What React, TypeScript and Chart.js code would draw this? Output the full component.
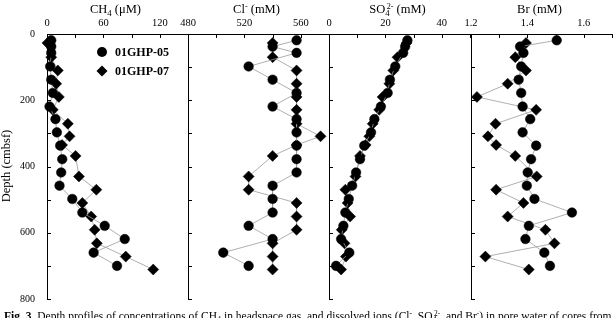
import React, { useEffect, useRef } from 'react';
import { Chart, registerables } from 'chart.js';
Chart.register(...registerables);

const SERIF = "'Liberation Serif', 'DejaVu Serif', serif";

// ---- data (depth in cmbsf) ----
const depth05 = [19, 38, 57, 98, 138, 178, 219, 257, 297, 337, 378, 418, 458, 498, 539, 579, 619, 660, 700];
const depth07 = [27, 70, 110, 150, 190, 229, 271, 309, 335, 368, 430, 470, 510, 551, 591, 632, 672, 711];

const ch4_05 = [4.5, 4.5, 4.5, 3.4, 4.5, 6.2, 2.7, 9, 10.5, 14, 16.2, 15.1, 13.3, 26.9, 37.6, 61.4, 82.7, 49.6, 74.5];
const ch4_07 = [0.5, 4.5, 11.5, 9.8, 12.6, 6.2, 22.2, 24, 16, 30.4, 34, 52.5, 37.6, 47, 50.7, 53, 83.8, 113];

const cl_05 = [557, 540, 557, 523, 540, 557, 540, 557, 557, 557, 557, 557, 540, 540, 540, 523, 540, 505, 523];
const cl_07 = [540, 540, 557, 557, 557, 557, 557, 574, 557, 540, 523, 523, 557, 557, 557, 540, 540, 540];

const so4_05 = [27.8, 27, 26.3, 23.5, 21.6, 20.8, 18.4, 16.1, 14.9, 12.5, 11, 9.6, 8.2, 7, 5.8, 5.1, 4.3, 7.2, 2.5];
const so4_07 = [27.5, 24.3, 22.8, 21.4, 19, 17.8, 15.5, 14.3, 13, 11, 9.4, 5.8, 6.6, 7.5, 4.5, 5.5, 6, 4.3];

const br_05 = [1.504, 1.374, 1.386, 1.378, 1.369, 1.378, 1.383, 1.41, 1.383, 1.431, 1.413, 1.401, 1.398, 1.425, 1.558, 1.405, 1.393, 1.46, 1.48];
const br_07 = [1.395, 1.357, 1.395, 1.33, 1.221, 1.431, 1.287, 1.26, 1.289, 1.357, 1.433, 1.289, 1.386, 1.33, 1.464, 1.496, 1.251, 1.405];

const seriesNames = ['01GHP-05', '01GHP-07'];
const depthTicks = { min: 0, max: 800, step: 100, labelStep: 200 };

// ---- layout ----
const PANEL_W = 141;
const AXIS_W = 45;
const TOP = 34;
const BOTTOM = 299;
const H = 318;
const PAD_R = 8;

type PanelCfg = {
  left: number; min: number; max: number; step: number; decimals: number;
  v05: number[]; v07: number[]; showY: boolean; legend: boolean;
};

const panels: PanelCfg[] = [
  { left: 47, min: 0, max: 150, step: 30, decimals: 0, v05: ch4_05, v07: ch4_07, showY: true, legend: true },
  { left: 188, min: 480, max: 580, step: 20, decimals: 0, v05: cl_05, v07: cl_07, showY: false, legend: false },
  { left: 329, min: 0, max: 50, step: 10, decimals: 0, v05: so4_05, v07: so4_07, showY: false, legend: false },
  { left: 471, min: 1.2, max: 1.7, step: 0.1, decimals: 1, v05: br_05, v07: br_07, showY: false, legend: false },
];

const inwardTicks = {
  id: 'inwardTicks',
  afterDraw(chart: any) {
    const { ctx, chartArea, scales } = chart;
    ctx.save();
    ctx.strokeStyle = '#000';
    ctx.lineWidth = 1;
    ctx.beginPath();
    scales.x.ticks.forEach((t: any) => {
      const px = Math.round(scales.x.getPixelForValue(t.value)) + 0.5;
      ctx.moveTo(px, chartArea.top);
      ctx.lineTo(px, chartArea.top + 4);
    });
    scales.y.ticks.forEach((t: any) => {
      const py = Math.round(scales.y.getPixelForValue(t.value)) + 0.5;
      ctx.moveTo(chartArea.left, py);
      ctx.lineTo(chartArea.left + 4, py);
    });
    ctx.stroke();
    ctx.restore();
  },
};

const legendPlugin = {
  id: 'customLegend',
  afterDraw(chart: any) {
    const ctx = chart.ctx;
    const ds = chart.data.datasets;
    const mx = 100;
    const rows = [52, 71];
    ctx.save();
    ctx.fillStyle = '#000';
    ctx.font = `bold 12px ${SERIF}`;
    ctx.textBaseline = 'middle';
    ds.forEach((d: any, i: number) => {
      ctx.beginPath();
      if (d.pointStyle === 'circle') {
        ctx.arc(mx, rows[i], 5, 0, Math.PI * 2);
      } else {
        const r = 5.5;
        ctx.moveTo(mx, rows[i] - r);
        ctx.lineTo(mx + r, rows[i]);
        ctx.lineTo(mx, rows[i] + r);
        ctx.lineTo(mx - r, rows[i]);
        ctx.closePath();
      }
      ctx.fill();
      ctx.fillText(d.label, mx + 13, rows[i] + 0.5);
    });
    ctx.restore();
  },
};

function Panel({ cfg }: { cfg: PanelCfg }) {
  const ref = useRef<HTMLCanvasElement | null>(null);
  useEffect(() => {
    if (!ref.current) return;
    const mk = (vals: number[], depths: number[]) => depths.map((d, i) => ({ x: vals[i], y: d }));
    const chart = new Chart(ref.current, {
      type: 'scatter',
      data: {
        datasets: [
          {
            label: seriesNames[0],
            data: mk(cfg.v05, depth05),
            showLine: true,
            borderColor: '#9a9a9a',
            borderWidth: 0.8,
            pointStyle: 'circle',
            pointRadius: 4.8,
            pointBackgroundColor: '#000',
            pointBorderColor: '#000',
            pointBorderWidth: 0.5,
            clip: false,
          } as any,
          {
            label: seriesNames[1],
            data: mk(cfg.v07, depth07),
            showLine: true,
            borderColor: '#9a9a9a',
            borderWidth: 0.8,
            pointStyle: 'rectRot',
            pointRadius: 5.5,
            pointBackgroundColor: '#000',
            pointBorderColor: '#000',
            pointBorderWidth: 0.5,
            clip: false,
          } as any,
        ],
      },
      options: {
        animation: false,
        responsive: false,
        devicePixelRatio: 1,
        events: [],
        layout: { padding: { left: 0, right: PAD_R, top: 0, bottom: H - BOTTOM } },
        plugins: { legend: { display: false }, tooltip: { enabled: false } },
        scales: {
          x: {
            type: 'linear',
            position: 'top',
            min: cfg.min,
            max: cfg.max,
            ticks: {
              stepSize: cfg.step,
              autoSkip: false,
              maxRotation: 0,
              minRotation: 0,
              padding: 4,
              color: '#000',
              font: { family: SERIF, size: 10.5 },
              callback: (v: any) => {
                const k = Math.round((Number(v) - cfg.min) / cfg.step);
                return k % 2 === 0 ? Number(v).toFixed(cfg.decimals) : '';
              },
            },
            grid: { display: true, drawOnChartArea: false, drawTicks: false },
            border: { display: true, color: '#000', width: 1 },
            afterFit: (s: any) => { s.height = TOP; },
          },
          y: {
            type: 'linear',
            reverse: true,
            min: depthTicks.min,
            max: depthTicks.max,
            ticks: {
              stepSize: depthTicks.step,
              display: cfg.showY,
              autoSkip: false,
              padding: 12,
              color: '#000',
              font: { family: SERIF, size: 10 },
              callback: (v: any) => (Number(v) % depthTicks.labelStep === 0 ? String(v) : ''),
            },
            grid: { display: true, drawOnChartArea: false, drawTicks: false },
            border: { display: true, color: '#000', width: 1 },
            afterFit: (s: any) => { s.width = AXIS_W; },
          },
        },
      } as any,
      plugins: cfg.legend ? [inwardTicks, legendPlugin] : [inwardTicks],
    });
    return () => chart.destroy();
  }, [cfg]);
  const w = AXIS_W + PANEL_W + PAD_R;
  return (
    <canvas
      ref={ref}
      width={w}
      height={H}
      style={{ position: 'absolute', left: cfg.left - AXIS_W, top: 0, width: w, height: H }}
    />
  );
}

const subSt: React.CSSProperties = { fontSize: '70%', verticalAlign: 'baseline', position: 'relative', top: '0.3em', lineHeight: 0 };
const supSt: React.CSSProperties = { fontSize: '65%', verticalAlign: 'baseline', position: 'relative', top: '-0.5em', lineHeight: 0 };

const titles: React.ReactNode[] = [
  <>CH<span style={subSt}>4</span> (μM)</>,
  <>Cl<span style={supSt}>-</span> (mM)</>,
  <>SO<span style={subSt}>4</span><span style={{ ...supSt, marginLeft: '-0.35em' }}>2-</span> (mM)</>,
  <>Br (mM)</>,
];

export default function App() {
  return (
    <div
      style={{
        position: 'absolute', left: 0, top: 0, width: 613, height: 318,
        overflow: 'hidden', background: '#fff', fontFamily: SERIF, color: '#000',
      }}
    >
      {panels.map((p, i) => (
        <Panel key={i} cfg={p} />
      ))}
      {panels.map((p, i) => (
        <div
          key={'t' + i}
          style={{
            position: 'absolute', left: p.left - 2, top: 1, width: PANEL_W, textAlign: 'center',
            fontSize: 12.5, lineHeight: '16px', whiteSpace: 'nowrap',
          }}
        >
          {titles[i]}
        </div>
      ))}
      <div
        style={{
          position: 'absolute', left: 6 - 60, top: 166 - 8, width: 120, height: 16, lineHeight: '16px',
          textAlign: 'center', fontSize: 12.5, transform: 'rotate(-90deg)', whiteSpace: 'nowrap',
        }}
      >
        Depth (cmbsf)
      </div>
      <div
        style={{
          position: 'absolute', left: 4, top: 309, fontSize: 11.5, lineHeight: '14px', whiteSpace: 'nowrap',
        }}
      >
        <b>Fig. 3</b>&nbsp; Depth profiles of concentrations of CH<span style={subSt}>4</span> in headspace gas, and dissolved ions (Cl<span style={supSt}>-</span>, SO<span style={subSt}>4</span><span style={{ ...supSt, marginLeft: '-0.35em' }}>2-</span>, and Br<span style={supSt}>-</span>) in pore water of cores from
      </div>
    </div>
  );
}
